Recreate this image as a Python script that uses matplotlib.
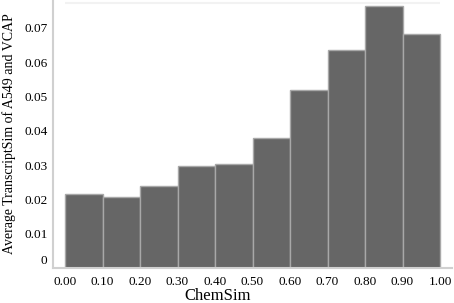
import matplotlib
matplotlib.use("Agg")
import matplotlib.pyplot as plt
import matplotlib.transforms as mtransforms
import numpy as np

bin_left = [0.0, 0.1, 0.2, 0.3, 0.4, 0.5, 0.6, 0.7, 0.8, 0.9]
avg_sim = [0.0216, 0.0207, 0.0238, 0.0297, 0.0302, 0.0380, 0.0518, 0.0634, 0.0763, 0.0682]
xtick_vals = [0.0, 0.1, 0.2, 0.3, 0.4, 0.5, 0.6, 0.7, 0.8, 0.9, 1.0]
xtick_labels = ["0.00", "0.10", "0.20", "0.30", "0.40", "0.50", "0.60", "0.70", "0.80", "0.90", "1.00"]
ytick_vals = [0, 0.01, 0.02, 0.03, 0.04, 0.05, 0.06, 0.07]
ytick_labels = ["0", "0.01", "0.02", "0.03", "0.04", "0.05", "0.06", "0.07"]

plt.rcParams['font.family'] = ['Liberation Serif', 'DejaVu Serif']

fig = plt.figure(figsize=(4.54, 3.03), dpi=100)
ax = fig.add_axes([53/454, 1 - 268/303, 399/454, 268/303])

ax.bar(bin_left, avg_sim, width=0.1, align='edge', color='#666666',
       edgecolor='#a8a8a8', linewidth=1.0, zorder=2)
ax.hlines(0.0772, 0.0, 1.0, color='#f2f2f2', linewidth=1.5, zorder=1)

ax.set_xlim(-0.032, 1.032)
ax.set_ylim(0, 0.0781)

ax.set_xticks(xtick_vals)
ax.set_xticklabels(xtick_labels)
ax.set_yticks(ytick_vals)
ax.set_yticklabels(ytick_labels)
ax.tick_params(axis='both', length=0, labelsize=9.5, colors='black')
ax.tick_params(axis='y', pad=4)
ax.tick_params(axis='x', pad=6)

# shift the "0" label up as in the reference
lab0 = ax.get_yticklabels()[0]
lab0.set_transform(lab0.get_transform() + mtransforms.ScaledTranslation(0, 8/100, fig.dpi_scale_trans))

for s in ['top', 'right']:
    ax.spines[s].set_visible(False)
for s in ['left', 'bottom']:
    ax.spines[s].set_color('#d0d0d0')
    ax.spines[s].set_linewidth(1.5)

ax.set_xlabel("ChemSim", fontsize=12)
ax.xaxis.label.set_verticalalignment('center')
ax.xaxis.set_label_coords((218 - 53) / 399, -28 / 268)
ax.set_ylabel("Average TranscriptSim of A549 and VCAP", fontsize=10, labelpad=6)

fig.savefig("out.png", dpi=100)
